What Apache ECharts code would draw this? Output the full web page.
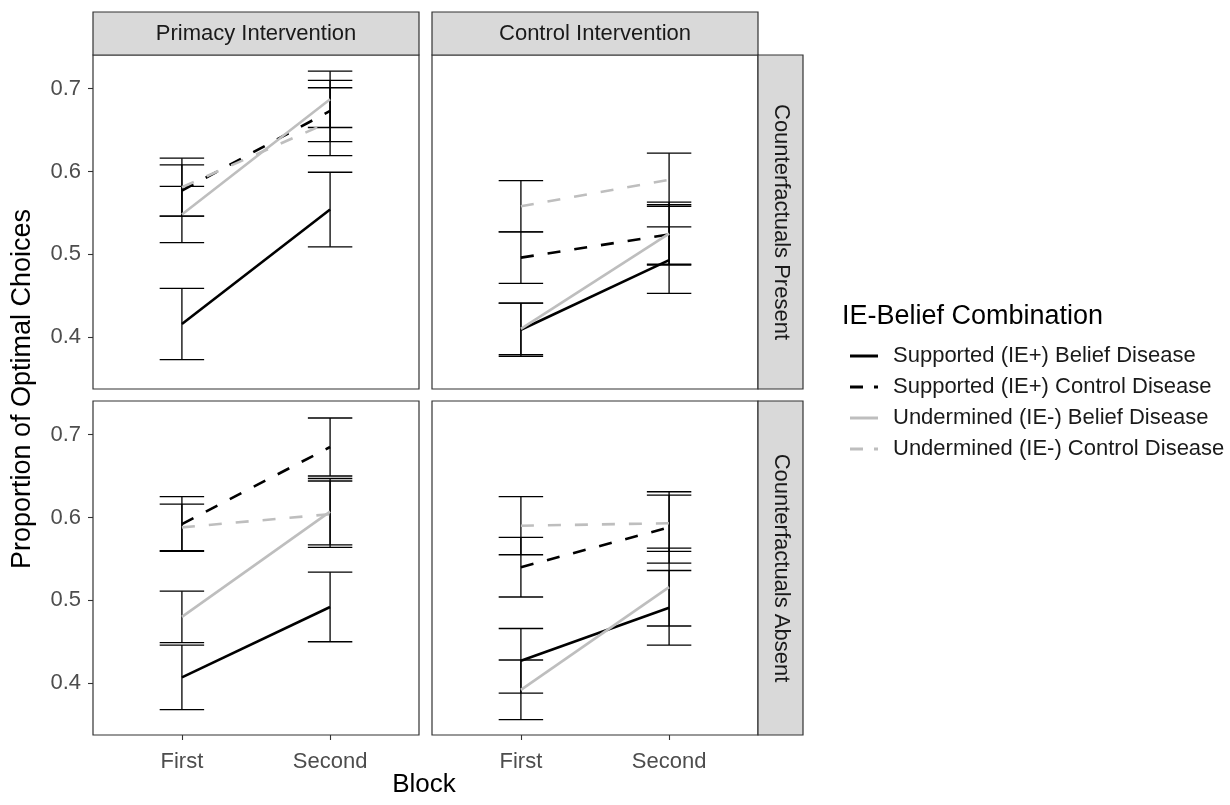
<!DOCTYPE html>
<html>
<head>
<meta charset="utf-8">
<script src="https://cdn.jsdelivr.net/npm/echarts@6/dist/echarts.min.js"></script>
<style>
  html, body { margin: 0; padding: 0; background: #fff; }
  #chart { width: 1230px; height: 805px; }
</style>
</head>
<body>
<div id="chart"></div>
<script>
// Block labels and the tick values on both axes
const blocks = ['First', 'Second'];
const blockPositions = [1, 2];
const yTicks = [0.4, 0.5, 0.6, 0.7];

// Facet labels
const interventions = ['Primacy Intervention', 'Control Intervention'];
const counterfactuals = ['Counterfactuals Present', 'Counterfactuals Absent'];

// IE-belief groups (legend order)
const combos = [
  'Supported (IE+) Belief Disease',
  'Supported (IE+) Control Disease',
  'Undermined (IE-) Belief Disease',
  'Undermined (IE-) Control Disease'
];

// Mean proportion of optimal choices per group: [First, Second]
const primacyPresentMean = [[0.416, 0.554], [0.577, 0.673], [0.548, 0.687], [0.581, 0.660]];
const controlPresentMean = [[0.409, 0.493], [0.496, 0.524], [0.410, 0.525], [0.558, 0.590]];
const primacyAbsentMean  = [[0.407, 0.492], [0.592, 0.685], [0.480, 0.607], [0.588, 0.604]];
const controlAbsentMean  = [[0.427, 0.491], [0.540, 0.588], [0.392, 0.516], [0.590, 0.593]];

// Error-bar half widths per group: [First, Second]
const primacyPresentErr = [[0.043, 0.045], [0.031, 0.037], [0.034, 0.034], [0.035, 0.041]];
const controlPresentErr = [[0.032, 0.040], [0.031, 0.036], [0.031, 0.038], [0.031, 0.032]];
const primacyAbsentErr  = [[0.039, 0.042], [0.033, 0.035], [0.031, 0.040], [0.028, 0.040]];
const controlAbsentErr  = [[0.039, 0.045], [0.036, 0.043], [0.036, 0.047], [0.035, 0.034]];

// Panel order: top-left, top-right, bottom-left, bottom-right
const panelMeans = [primacyPresentMean, controlPresentMean, primacyAbsentMean, controlAbsentMean];
const panelErrs = [primacyPresentErr, controlPresentErr, primacyAbsentErr, controlAbsentErr];

// Styling
const FONT = "'Liberation Sans', Arial, sans-serif";
const SOLID_KEY = 'path://M0,0H28V3H0Z';
const DASH_KEY = 'path://M0,0H13V3H0Z M24,0H28V3H24Z';
const comboStyles = [
  { color: '#000000', type: 'solid', key: SOLID_KEY },
  { color: '#000000', type: [13, 14], key: DASH_KEY },
  { color: '#bebebe', type: 'solid', key: SOLID_KEY },
  { color: '#bebebe', type: [13, 14], key: DASH_KEY }
];
const LEFT = [93, 432];
const TOP = [55, 401];
const PW = 326, PH = 334;
const CAP = 0.15; // half cap width in axis units

const grids = [], xAxes = [], yAxes = [], series = [];

for (let p = 0; p < 4; p++) {
  const col = p % 2, row = Math.floor(p / 2);
  grids.push({
    left: LEFT[col], top: TOP[row], width: PW, height: PH,
    show: true, borderColor: '#333333', borderWidth: 1.2, backgroundColor: '#ffffff'
  });
  const bottom = row === 1, leftSide = col === 0;
  xAxes.push({
    type: 'value', gridIndex: p, min: 0.4, max: 2.6,
    splitLine: { show: false }, axisLine: { show: false },
    axisTick: { show: bottom, customValues: blockPositions, length: 5, lineStyle: { color: '#333333', width: 1.1 } },
    axisLabel: {
      show: bottom, customValues: blockPositions, margin: 16,
      formatter: v => blocks[blockPositions.indexOf(Math.round(v))] || '',
      fontSize: 22, fontFamily: FONT, color: '#4d4d4d'
    }
  });
  yAxes.push({
    type: 'value', gridIndex: p, min: 0.3375, max: 0.7405,
    splitLine: { show: false }, axisLine: { show: false },
    axisTick: { show: leftSide, customValues: yTicks, length: 5, lineStyle: { color: '#333333', width: 1.1 } },
    axisLabel: {
      show: leftSide, customValues: yTicks, margin: 12,
      formatter: v => v.toFixed(1),
      fontSize: 22, fontFamily: FONT, color: '#4d4d4d'
    }
  });

  const means = panelMeans[p], errs = panelErrs[p];
  // error bars
  for (let g = 0; g < combos.length; g++) {
    series.push({
      type: 'custom', name: 'err-' + p + '-' + g, xAxisIndex: p, yAxisIndex: p, z: 2,
      data: blockPositions.map((x, i) => [x, means[g][i] - errs[g][i], means[g][i] + errs[g][i]]),
      encode: { x: 0, y: [1, 2] },
      renderItem: (params, api) => {
        const x = api.value(0), lo = api.value(1), hi = api.value(2);
        const top = api.coord([x, hi]), bot = api.coord([x, lo]);
        const tl = api.coord([x - CAP, hi]), tr = api.coord([x + CAP, hi]);
        const bl = api.coord([x - CAP, lo]), br = api.coord([x + CAP, lo]);
        const st = { stroke: '#000000', lineWidth: 1.3 };
        return {
          type: 'group', children: [
            { type: 'line', shape: { x1: top[0], y1: top[1], x2: bot[0], y2: bot[1] }, style: st },
            { type: 'line', shape: { x1: tl[0], y1: tl[1], x2: tr[0], y2: tr[1] }, style: st },
            { type: 'line', shape: { x1: bl[0], y1: bl[1], x2: br[0], y2: br[1] }, style: st }
          ]
        };
      }
    });
  }
  // group lines
  for (let g = 0; g < combos.length; g++) {
    series.push({
      type: 'line', name: combos[g], xAxisIndex: p, yAxisIndex: p, z: 3,
      symbol: 'none', color: comboStyles[g].color,
      lineStyle: { color: comboStyles[g].color, type: comboStyles[g].type, width: 2.6 },
      data: blockPositions.map((x, i) => [x, means[g][i]])
    });
  }
}

// facet strips and axis titles
const graphics = [];
for (let c = 0; c < 2; c++) {
  graphics.push({ type: 'rect', shape: { x: LEFT[c], y: 12, width: PW, height: TOP[0] - 12 },
    style: { fill: '#d9d9d9', stroke: '#333333', lineWidth: 1.2 }, z: 10 });
  graphics.push({ type: 'text', x: LEFT[c] + PW / 2, y: 34, z: 11,
    style: { text: interventions[c], align: 'center', verticalAlign: 'middle', fontSize: 22, fontFamily: FONT, fill: '#1a1a1a' } });
}
for (let r = 0; r < 2; r++) {
  const sx = LEFT[1] + PW;
  graphics.push({ type: 'rect', shape: { x: sx, y: TOP[r], width: 45, height: PH },
    style: { fill: '#d9d9d9', stroke: '#333333', lineWidth: 1.2 }, z: 10 });
  graphics.push({ type: 'text', x: sx + 23, y: TOP[r] + PH / 2, rotation: -Math.PI / 2, z: 11,
    style: { text: counterfactuals[r], align: 'center', verticalAlign: 'middle', fontSize: 22, fontFamily: FONT, fill: '#1a1a1a' } });
}
graphics.push({ type: 'text', x: 23, y: 389, rotation: Math.PI / 2, z: 11,
  style: { text: 'Proportion of Optimal Choices', align: 'center', verticalAlign: 'middle', fontSize: 27, fontFamily: FONT, fill: '#000000' } });
graphics.push({ type: 'text', x: 424, y: 785, z: 11,
  style: { text: 'Block', align: 'center', verticalAlign: 'middle', fontSize: 26, fontFamily: FONT, fill: '#000000' } });

const chart = echarts.init(document.getElementById('chart'), null, { renderer: 'canvas' });
chart.setOption({
  animation: false,
  backgroundColor: '#ffffff',
  title: {
    text: 'IE-Belief Combination', left: 837, top: 298,
    textStyle: { fontSize: 27, fontWeight: 'normal', fontFamily: FONT, color: '#000000' }
  },
  legend: {
    data: combos.map((name, g) => ({ name, icon: comboStyles[g].key })),
    orient: 'vertical', left: 845, top: 340,
    itemWidth: 28, itemHeight: 3, itemGap: 9,
    textStyle: { fontSize: 22, fontFamily: FONT, color: '#1a1a1a', padding: [0, 0, 0, 10] }
  },
  grid: grids,
  xAxis: xAxes,
  yAxis: yAxes,
  series: series,
  graphic: { elements: graphics }
});
</script>
</body>
</html>
